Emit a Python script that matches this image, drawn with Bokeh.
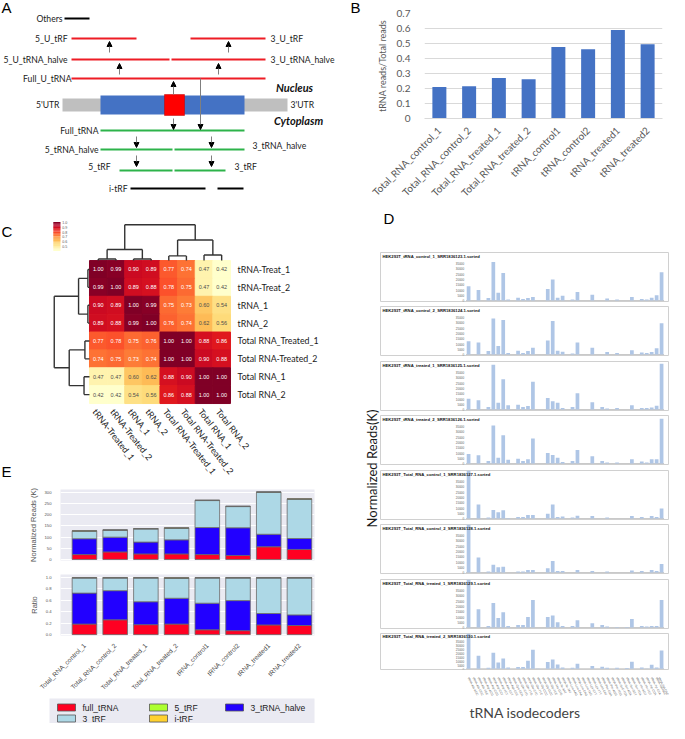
import numpy as np
from bokeh.plotting import figure
from bokeh.models import (Range1d, FactorRange, Arrow, NormalHead,
                          ColumnDataSource, FixedTicker, CustomJSTickFormatter)
from bokeh.layouts import row, column
from bokeh.transform import linear_cmap
from bokeh.embed import file_html
from bokeh.resources import INLINE
from bokeh.core.properties import value

FONT = value("Lato")
ARIAL = value("Liberation Sans")

# ---------------- Panel A (schematic) ----------------
a_red_x0 = [79, 198, 79, 179, 79]
a_red_x1 = [144, 273, 177, 273, 273]
a_red_y = [46, 46, 67, 67, 86]
a_green_x0 = [108, 108, 182, 127, 182]
a_green_x1 = [252, 180, 252, 180, 233]
a_green_y = [138, 157, 157, 178, 178]
a_black_x0 = [72, 138, 225]
a_black_x1 = [97, 213, 251]
a_black_y = [26, 196, 196]
a_lab_right = ["Others", "5_U_tRF", "5_U_tRNA_halve", "Full_U_tRNA", "5'UTR", "Full_tRNA", "5_tRNA_halve", "5_tRF", "i-tRF"]
a_lab_right_x = [70, 75, 75, 79, 67, 106, 106, 118, 135]
a_lab_right_y = [26, 46, 67, 86, 112, 138, 157, 174, 196]
a_lab_left = ["3_U_tRF", "3_U_tRNA_halve", "3'UTR", "3_tRNA_halve", "3_tRF"]
a_lab_left_x = [278, 278, 298, 260, 242]
a_lab_left_y = [46, 67, 112, 153, 174]
a_arrows = [(117, 60, 49), (236, 60, 49), (127, 82, 71), (226, 82, 71), (181, 102, 89),
            (181, 126, 137), (208, 86, 137), (144, 144, 155), (219, 144, 155),
            (144, 163, 174), (219, 163, 174)]

# ---------------- Panel B ----------------
b_samples = ["Total_RNA_control_1", "Total_RNA_control_2", "Total_RNA_treated_1",
             "Total_RNA_treated_2", "tRNA_control1", "tRNA_control2", "tRNA_treated1", "tRNA_treated2"]
b_ratio = [0.21, 0.215, 0.27, 0.262, 0.476, 0.462, 0.59, 0.495]
b_yticks = [0, 0.1, 0.2, 0.3, 0.4, 0.5, 0.6, 0.7]

# ---------------- Panel C ----------------
c_rows = ["tRNA-Treat_1", "tRNA-Treat_2", "tRNA_1", "tRNA_2", "Total RNA_Treated_1",
          "Total RNA-Treated_2", "Total RNA_1", "Total RNA_2"]
c_cols = ["tRNA-Treated_1", "tRNA-Treated_2", "tRNA_1", "tRNA_2", "Total RNA-Treated_1",
          "Total RNA-Treated_2", "Total RNA_1", "Total RNA_2"]
c_corr = [
    [1.00, 0.99, 0.90, 0.89, 0.77, 0.74, 0.47, 0.42],
    [0.99, 1.00, 0.89, 0.88, 0.78, 0.75, 0.47, 0.42],
    [0.90, 0.89, 1.00, 0.99, 0.75, 0.73, 0.60, 0.54],
    [0.89, 0.88, 0.99, 1.00, 0.76, 0.74, 0.62, 0.56],
    [0.77, 0.78, 0.75, 0.76, 1.00, 1.00, 0.88, 0.86],
    [0.74, 0.75, 0.73, 0.74, 1.00, 1.00, 0.90, 0.88],
    [0.47, 0.47, 0.60, 0.62, 0.88, 0.90, 1.00, 1.00],
    [0.42, 0.42, 0.54, 0.56, 0.86, 0.88, 1.00, 1.00],
]
c_cbar_ticks = [1.0, 0.9, 0.8, 0.7, 0.6, 0.5]
# linkage: (child_a, child_b, height) ; leaves 0..7, new clusters 8..14
c_links = [(0, 1, 0.09), (2, 3, 0.09), (4, 5, 0.26), (6, 7, 0.31),
           (8, 9, 0.62), (10, 11, 1.15), (12, 13, 2.0)]

# ---------------- Panel E ----------------
e_full = [22, 34, 25, 25, 22, 18, 57, 45]
e_half3 = [71, 66, 53, 63, 121, 124, 56, 49]
e_trf3 = [34, 31, 59, 52, 121, 95, 188, 176]
e_trf5 = [1, 1, 1, 1, 1, 1, 1, 1]
e_itrf = [0.5, 0.5, 0.5, 1, 0.5, 0.5, 0.5, 0.5]
r_full = [0.185, 0.26, 0.175, 0.185, 0.085, 0.07, 0.17, 0.16]
r_half3 = [0.542, 0.51, 0.401, 0.452, 0.465, 0.526, 0.20, 0.186]
r_trf3 = [0.265, 0.222, 0.416, 0.350, 0.442, 0.396, 0.622, 0.646]
r_trf5 = [0.004, 0.004, 0.004, 0.004, 0.004, 0.004, 0.004, 0.004]
r_itrf = [0.004, 0.004, 0.004, 0.009, 0.004, 0.004, 0.004, 0.004]
e_yticks = [0, 50, 100, 150, 200, 250, 300]
r_yticks = [0.0, 0.2, 0.4, 0.6, 0.8, 1.0]
e_colors = ["#FF0022", "#2200FF", "#ADD8E6", "#ADFF2F", "#FFD12E"]
e_names = ["full_tRNA", "3_tRNA_halve", "3_tRF", "5_tRF", "i-tRF"]

# ---------------- Panel D ----------------
d_titles = ["HEK293T_tRNA_control_1_SRR1836123.1.sorted",
            "HEK293T_tRNA_control_2_SRR1836124.1.sorted",
            "HEK293T_tRNA_treated_1_SRR1836125.1.sorted",
            "HEK293T_tRNA_treated_2_SRR1836126.1.sorted",
            "HEK293T_Total_RNA_control_1_SRR1836127.1.sorted",
            "HEK293T_Total_RNA_control_2_SRR1836128.1.sorted",
            "HEK293T_Total_RNA_treated_1_SRR1836129.1.sorted",
            "HEK293T_Total_RNA_treated_2_SRR1836130.1.sorted"]
d_names = ["Ala-AGC", "Ala-CGC", "Ala-TGC", "Arg-ACG", "Arg-CCG", "Arg-CCT", "Arg-TCT", "Asn-GTT",
           "Asp-GTC", "Cys-GCA", "Gln-CTG", "Gln-TTG", "Glu-CTC", "Glu-TTC", "Gly-CCC", "Gly-GCC",
           "Gly-TCC", "His-GTG", "Ile-AAT", "Ile-TAT", "Leu-AAG", "Leu-CAA", "Leu-CAG", "Leu-TAG",
           "Lys-CTT", "Lys-TTT", "Met-CAT", "Phe-GAA", "Pro-AGG", "Pro-TGG", "SeC-TCA", "Ser-AGA",
           "Ser-GCT", "Ser-TGA", "Thr-AGT", "Thr-TGT", "Trp-CCA", "Tyr-GTA", "Val-AAC", "Val-CAC"]
d_pos = list(range(-2, 38))
# normalized reads per isodecoder (same order as d_names)
d_p1 = [13500, 0, 9900, 0, 2300, 36000, 7200, 25700, 900, 0, 2700, 1400, 2300, 3200, 0, 0, 10800, 19800, 2700, 4500,
        0, 900, 8100, 0, 0, 5400, 0, 0, 1800, 0, 900, 0, 0, 3200, 0, 1400, 900, 2700, 5000, 26600]
d_p2 = [12500, 0, 11300, 0, 3200, 33800, 8100, 32400, 1400, 0, 3600, 1400, 3200, 6300, 0, 0, 13100, 31500, 3600, 2700,
        0, 900, 11300, 0, 0, 6300, 0, 0, 2300, 0, 1400, 0, 0, 4100, 0, 1800, 1400, 2300, 5900, 29300]
d_p3 = [10000, 0, 8600, 0, 2300, 41900, 6300, 28400, 4100, 0, 4500, 2300, 3200, 26100, 0, 0, 10800, 7700, 6300, 1400,
        0, 2300, 15300, 0, 0, 6800, 0, 2300, 900, 0, 1400, 0, 0, 4100, 0, 1400, 1400, 1800, 3600, 42800]
d_p4 = [9000, 0, 7700, 0, 2300, 35600, 5400, 26600, 3600, 0, 4500, 2300, 4100, 23400, 0, 0, 9900, 8100, 5400, 1400,
        0, 2300, 12600, 0, 0, 6800, 0, 2300, 900, 0, 900, 0, 0, 4100, 0, 1800, 900, 4100, 4100, 41900]
d_p5 = [45000, 0, 13100, 0, 900, 8100, 5900, 7700, 500, 0, 1400, 1400, 3200, 3200, 0, 0, 4500, 13100, 1400, 1800,
        0, 900, 2700, 0, 0, 2300, 0, 0, 900, 0, 0, 0, 0, 2300, 0, 1400, 0, 2300, 1400, 9500]
d_p6 = [45000, 0, 14000, 0, 900, 7200, 5000, 5400, 0, 0, 900, 900, 2300, 2300, 0, 0, 4100, 10800, 1400, 1400,
        0, 0, 2300, 0, 0, 1400, 0, 0, 900, 0, 0, 0, 0, 1800, 0, 1400, 0, 2300, 1400, 8100]
d_p7 = [45000, 0, 17100, 0, 1400, 23000, 9000, 14400, 1400, 0, 2300, 2300, 9900, 25700, 0, 0, 9900, 11300, 5000, 1400,
        0, 1400, 6800, 0, 0, 4100, 0, 2300, 900, 0, 500, 0, 500, 8100, 0, 1400, 900, 1400, 1400, 25700]
d_p8 = [45000, 0, 16700, 0, 1400, 20300, 8100, 13100, 1800, 0, 2300, 2300, 10400, 24300, 500, 0, 8600, 11700, 5400, 1800,
        0, 1400, 6300, 0, 0, 3600, 0, 2700, 1400, 0, 1400, 0, 900, 9000, 0, 1800, 500, 5000, 1800, 23400]
d_series = [d_p1, d_p2, d_p3, d_p4, d_p5, d_p6, d_p7, d_p8]
d_yticks = [0, 5000, 10000, 15000, 20000, 25000, 30000, 35000]


def noalign(p):
    try:
        p.frame_align = False
    except Exception:
        pass
    return p


def base_fig(w, h, xr, yr, **kw):
    p = figure(width=w, height=h, x_range=xr, y_range=yr, output_backend="svg",
               toolbar_location=None, min_border=0, x_axis_type=None, y_axis_type=None, **kw)
    p.outline_line_color = None
    p.grid.visible = False
    return noalign(p)


# ======================= A (also holds letter B) =======================
pA = base_fig(362, 205, Range1d(8, 370), Range1d(213, 8))
pA.text(x=[9, 358], y=[23, 23], text=["A", "B"], text_font=ARIAL, text_font_size="15px", text_baseline="bottom")
pA.quad(left=[70], right=[295], top=[106], bottom=[119], fill_color="#BFBFBF", line_color=None)
pA.quad(left=[108], right=[252], top=[103], bottom=[122], fill_color="#4472C4", line_color=None)
pA.quad(left=[172], right=[192], top=[102], bottom=[123], fill_color="#FF0000", line_color="#C00000", line_width=0.5)
pA.segment(x0=a_red_x0, x1=a_red_x1, y0=a_red_y, y1=a_red_y, line_color="#EE1C25", line_width=2)
pA.segment(x0=a_green_x0, x1=a_green_x1, y0=a_green_y, y1=a_green_y, line_color="#2DB34A", line_width=2)
pA.segment(x0=a_black_x0, x1=a_black_x1, y0=a_black_y, y1=a_black_y, line_color="black", line_width=2)
for (ax, ay0, ay1) in a_arrows:
    pA.add_layout(Arrow(end=NormalHead(size=5, fill_color="black", line_color="black"),
                        x_start=ax, y_start=ay0, x_end=ax, y_end=ay1,
                        line_color="#7F7F7F", line_width=1))
pA.text(x=a_lab_right_x, y=a_lab_right_y, text=a_lab_right, text_align="right", text_baseline="middle",
        text_font=FONT, text_font_size="8.6px", text_color="#1a1a1a")
pA.text(x=a_lab_left_x, y=a_lab_left_y, text=a_lab_left, text_align="left", text_baseline="middle",
        text_font=FONT, text_font_size="8.6px", text_color="#1a1a1a")
pA.text(x=[302, 306], y=[95, 128], text=["Nucleus", "Cytoplasm"], text_align="center", text_baseline="middle",
        text_font=FONT, text_font_size="11px", text_font_style="bold italic", text_color="#111111")

# ======================= B =======================
pB = figure(width=307, height=205, x_range=FactorRange(*b_samples), y_range=Range1d(0, 0.7),
            output_backend="svg", toolbar_location=None,
            min_border_left=62, min_border_right=7, min_border_top=13, min_border_bottom=79)
noalign(pB)
pB.outline_line_color = None
pB.vbar(x=b_samples, top=b_ratio, width=0.47, fill_color="#4472C4", line_color=None)
pB.xgrid.visible = False
pB.ygrid.grid_line_color = "#D9D9D9"
pB.yaxis.ticker = FixedTicker(ticks=b_yticks)
pB.yaxis.formatter = CustomJSTickFormatter(code="return tick == 0 ? '0' : tick.toFixed(1);")
for ax in (pB.xaxis, pB.yaxis):
    ax.major_tick_line_color = None
    ax.minor_tick_line_color = None
    ax.major_label_text_font = "Lato"
    ax.major_label_text_color = "#595959"
    ax.major_label_text_font_size = "10px"
pB.yaxis.axis_line_color = None
pB.xaxis.axis_line_color = "#D9D9D9"
pB.xaxis.major_label_orientation = np.pi / 4
pB.xaxis.major_label_standoff = 4
pB.yaxis.axis_label = "tRNA reads/Total reads"
pB.yaxis.axis_label_text_font = "Lato"
pB.yaxis.axis_label_text_font_style = "normal"
pB.yaxis.axis_label_text_font_size = "9px"
pB.yaxis.axis_label_text_color = "#595959"
pB.yaxis.axis_label_standoff = 6
pB.yaxis.major_label_standoff = 8

# ======================= C (also holds letter E) =======================
pC = base_fig(335, 279, Range1d(-5.05, 13.96), Range1d(12.53, -3.08))
ylorrd = ["#ffffcc", "#ffeda0", "#fed976", "#feb24c", "#fd8d3c", "#fc4e2a", "#e31a1c", "#bd0026", "#800026"]


def interp_pal(pal, n):
    rgb = np.array([[int(c[i:i + 2], 16) for i in (1, 3, 5)] for c in pal], dtype=float)
    t = np.linspace(0, len(pal) - 1, n)
    out = []
    for v in t:
        i0 = int(np.floor(v)); i1 = min(i0 + 1, len(pal) - 1); f = v - i0
        c = rgb[i0] * (1 - f) + rgb[i1] * f
        out.append("#%02x%02x%02x" % tuple(int(round(x)) for x in c))
    return out


pal256 = interp_pal(ylorrd, 256)
cx, cy, cv, ct, ctc = [], [], [], [], []
for i in range(8):
    for j in range(8):
        v = c_corr[i][j]
        cx.append(j + 0.5); cy.append(i + 0.5); cv.append(v); ct.append("%.2f" % v)
        ctc.append("#ffffff" if v >= 0.7 else "#4d4d4d")
srcC = ColumnDataSource(dict(x=cx, y=cy, v=cv, t=ct, tc=ctc))
cmap = linear_cmap("v", pal256, low=0.42, high=1.0)
pC.rect(x="x", y="y", width=1, height=1, source=srcC, fill_color=cmap, line_color=cmap)
pC.text(x="x", y="y", text="t", source=srcC, text_color="tc", text_align="center", text_baseline="middle",
        text_font=ARIAL, text_font_size="5.5px")
pC.text(x=[8.4] * 8, y=[i + 0.5 for i in range(8)], text=c_rows, text_baseline="middle",
        text_font=FONT, text_font_size="8.8px", text_color="#1a1a1a")
pC.text(x=[j + 0.3 for j in range(8)], y=[8.35] * 8, text=c_cols, angle=-0.91, text_baseline="middle",
        text_font=FONT, text_font_size="8.8px", text_color="#1a1a1a")

# dendrograms
pos = {i: i + 0.5 for i in range(8)}
hgt = {i: 0.0 for i in range(8)}
dx0, dx1, dy0, dy1 = [], [], [], []
for n, (a, b, h) in enumerate(c_links):
    xa, xb = pos[a], pos[b]
    ha, hb = hgt[a], hgt[b]
    dx0 += [xa, xa, xb]; dy0 += [ha, h, hb]
    dx1 += [xa, xb, xb]; dy1 += [h, h, h]
    pos[8 + n] = (xa + xb) / 2; hgt[8 + n] = h
pC.segment(x0=dx0, x1=dx1, y0=[-v for v in dy0], y1=[-v for v in dy1], line_color="#333333", line_width=1.4)
pC.segment(x0=[-v for v in dy0], x1=[-v for v in dy1], y0=dx0, y1=dx1, line_color="#333333", line_width=1.4)
# colour bar
cb_v = np.linspace(1.0, 0.42, 40)
cb_y = [-2.13 + (1.0 - v) / 0.58 * 1.57 for v in cb_v]
pC.rect(x=[-1.85] * 40, y=cb_y, width=0.4, height=1.57 / 39 + 0.01,
        fill_color=[pal256[int((v - 0.42) / 0.58 * 255)] for v in cb_v], line_color=None)
pC.text(x=[-1.55] * 6, y=[-2.13 + (1.0 - v) / 0.58 * 1.57 for v in c_cbar_ticks], text=["%.1f" % v for v in c_cbar_ticks],
        text_baseline="middle", text_font=ARIAL, text_font_size="3.6px", text_color="#555555")
pC.text(x=[-5.0, -5.0], y=[-1.6, 11.8], text=["C", "E"], text_baseline="middle", text_font=ARIAL,
        text_font_size="15px", text_color="black")


# ======================= E =======================
def style_e(p):
    p.background_fill_color = "#EAEAF2"
    p.xgrid.visible = False
    p.ygrid.grid_line_color = "white"
    p.yaxis.axis_line_color = None
    p.yaxis.major_tick_line_color = None
    p.yaxis.minor_tick_line_color = None
    p.yaxis.major_label_text_font_size = "4.2px"
    p.yaxis.major_label_text_color = "#555555"
    p.yaxis.major_label_standoff = 3
    p.yaxis.axis_label_text_font = "Liberation Sans"
    p.yaxis.axis_label_text_font_style = "normal"
    p.yaxis.axis_label_text_font_size = "7.5px"
    p.yaxis.axis_label_text_color = "#555555"
    p.yaxis.axis_label_standoff = 4


xs = list(range(8))
srcE = ColumnDataSource(dict(x=xs, full=e_full, half=e_half3, trf3=e_trf3, trf5=e_trf5, itrf=e_itrf))
srcR = ColumnDataSource(dict(x=xs, full=r_full, half=r_half3, trf3=r_trf3, trf5=r_trf5, itrf=r_itrf))
keys = ["full", "half", "trf3", "trf5", "itrf"]

pE1 = figure(width=335, height=83, x_range=Range1d(-0.78, 7.49), y_range=Range1d(-4.5, 313.4),
             output_backend="svg", toolbar_location=None, x_axis_location=None,
             min_border_left=60, min_border_right=21, min_border_top=5, min_border_bottom=7)
noalign(pE1)
pE1.outline_line_color = None
style_e(pE1)
pE1.yaxis.ticker = FixedTicker(ticks=e_yticks)
pE1.yaxis.axis_label = "Normalized Reads (K)"
pE1.vbar_stack(keys, x="x", width=0.8, color=e_colors, line_color="#6a6a6a", line_width=0.8, source=srcE)

pE2 = figure(width=335, height=129, x_range=Range1d(-0.78, 7.49), y_range=Range1d(-0.015, 1.053),
             output_backend="svg", toolbar_location=None,
             min_border_left=60, min_border_right=21, min_border_top=7, min_border_bottom=51)
noalign(pE2)
pE2.outline_line_color = None
style_e(pE2)
pE2.yaxis.ticker = FixedTicker(ticks=r_yticks)
pE2.yaxis.formatter = CustomJSTickFormatter(code="return tick.toFixed(1);")
pE2.yaxis.axis_label = "Ratio"
pE2.vbar_stack(keys, x="x", width=0.8, color=e_colors, line_color="#6a6a6a", line_width=0.8, source=srcR)
pE2.xaxis.ticker = FixedTicker(ticks=xs)
pE2.xaxis.major_label_overrides = {i: s for i, s in enumerate(b_samples)}
pE2.xaxis.major_label_orientation = np.pi / 4
pE2.xaxis.axis_line_color = None
pE2.xaxis.major_tick_line_color = None
pE2.xaxis.minor_tick_line_color = None
pE2.xaxis.major_label_text_font = "Liberation Sans"
pE2.xaxis.major_label_text_font_size = "6.5px"
pE2.xaxis.major_label_text_color = "#444444"
pE2.xaxis.major_label_standoff = 3

pL = base_fig(335, 27, Range1d(8, 343), Range1d(731, 704))
pL.quad(left=[57], right=[322], top=[706], bottom=[740], fill_color="#EAEAF2", line_color=None)
leg_order = [0, 3, 1, 2, 4]
leg_bx = [65, 157, 233, 65, 157]
leg_by = [715, 715, 715, 726, 726]
leg_cols = [e_colors[i] for i in leg_order]
leg_txt = [e_names[i] for i in leg_order]
pL.quad(left=leg_bx, right=[b + 18 for b in leg_bx], top=[y - 3.5 for y in leg_by], bottom=[y + 3.5 for y in leg_by],
        fill_color=leg_cols, line_color="#555555", line_width=0.8)
pL.text(x=[b + 25 for b in leg_bx], y=leg_by, text=leg_txt, text_baseline="middle", text_font=ARIAL,
        text_font_size="8.5px", text_color="#222222")

# ======================= D =======================
pDl = base_fig(45, 518, Range1d(343, 388), Range1d(731, 213))
pDl.text(x=[379], y=[476], text=["Normalized Reads(K)"], angle=np.pi / 2, text_align="center",
         text_baseline="middle", text_font=FONT, text_font_size="13px", text_color="#1a1a1a")
pDt = base_fig(289, 45, Range1d(388, 677), Range1d(258, 213))
pDt.text(x=[391], y=[226], text=["D"], text_align="left", text_baseline="middle", text_font=ARIAL,
         text_font_size="15px", text_color="black")

heights = [54, 55, 54, 55, 54, 55, 54, 92]
panels = []
for i in range(8):
    last = (i == 7)
    kw = {} if last else {"x_axis_type": None}
    p = figure(width=289, height=heights[i], x_range=Range1d(-19.8, 38.6), y_range=Range1d(-900, 45000),
               output_backend="svg", toolbar_location=None, y_axis_type=None,
               min_border_left=0, min_border_right=0, min_border_top=2,
               min_border_bottom=heights[i] - 51, **kw)
    noalign(p)
    p.outline_line_color = "#D0D0D0"
    p.xgrid.visible = False
    p.ygrid.visible = False
    p.segment(x0=[-2.5], x1=[37.5], y0=[0], y1=[0], line_color="#C8C8C8", line_width=1)
    p.vbar(x=d_pos, top=d_series[i], width=0.75, fill_color="#AFC6E6", line_color=None)
    p.text(x=[-2.9] * len(d_yticks), y=d_yticks, text=[str(t) for t in d_yticks], text_align="right",
           text_baseline="middle", text_font=ARIAL, text_font_size="3px", text_color="#595959")
    p.text(x=[-19.4], y=[41500], text=[d_titles[i]], text_baseline="middle", text_font=ARIAL,
           text_font_size="4.2px", text_font_style="bold", text_color="#111111")
    if last:
        p.xaxis.ticker = FixedTicker(ticks=d_pos)
        p.xaxis.major_label_overrides = {x: "tRNA-" + n for x, n in zip(d_pos, d_names)}
        p.xaxis.major_label_orientation = -1.1
        p.xaxis.major_label_text_font_size = "3px"
        p.xaxis.major_label_text_color = "#595959"
        p.xaxis.major_label_standoff = 2
        p.xaxis.axis_line_color = None
        p.xaxis.major_tick_line_color = None
        p.xaxis.minor_tick_line_color = None
        p.xaxis.axis_label = "tRNA isodecoders"
        p.xaxis.axis_label_text_font = "Lato"
        p.xaxis.axis_label_text_font_style = "normal"
        p.xaxis.axis_label_text_font_size = "14px"
        p.xaxis.axis_label_standoff = 3
    panels.append(p)

right = row(pDl, column(pDt, *panels))
left = column(pC, pE1, pE2, pL)
layout = column(row(pA, pB), row(left, right))

open("out.html", "w").write(file_html(layout, INLINE))
